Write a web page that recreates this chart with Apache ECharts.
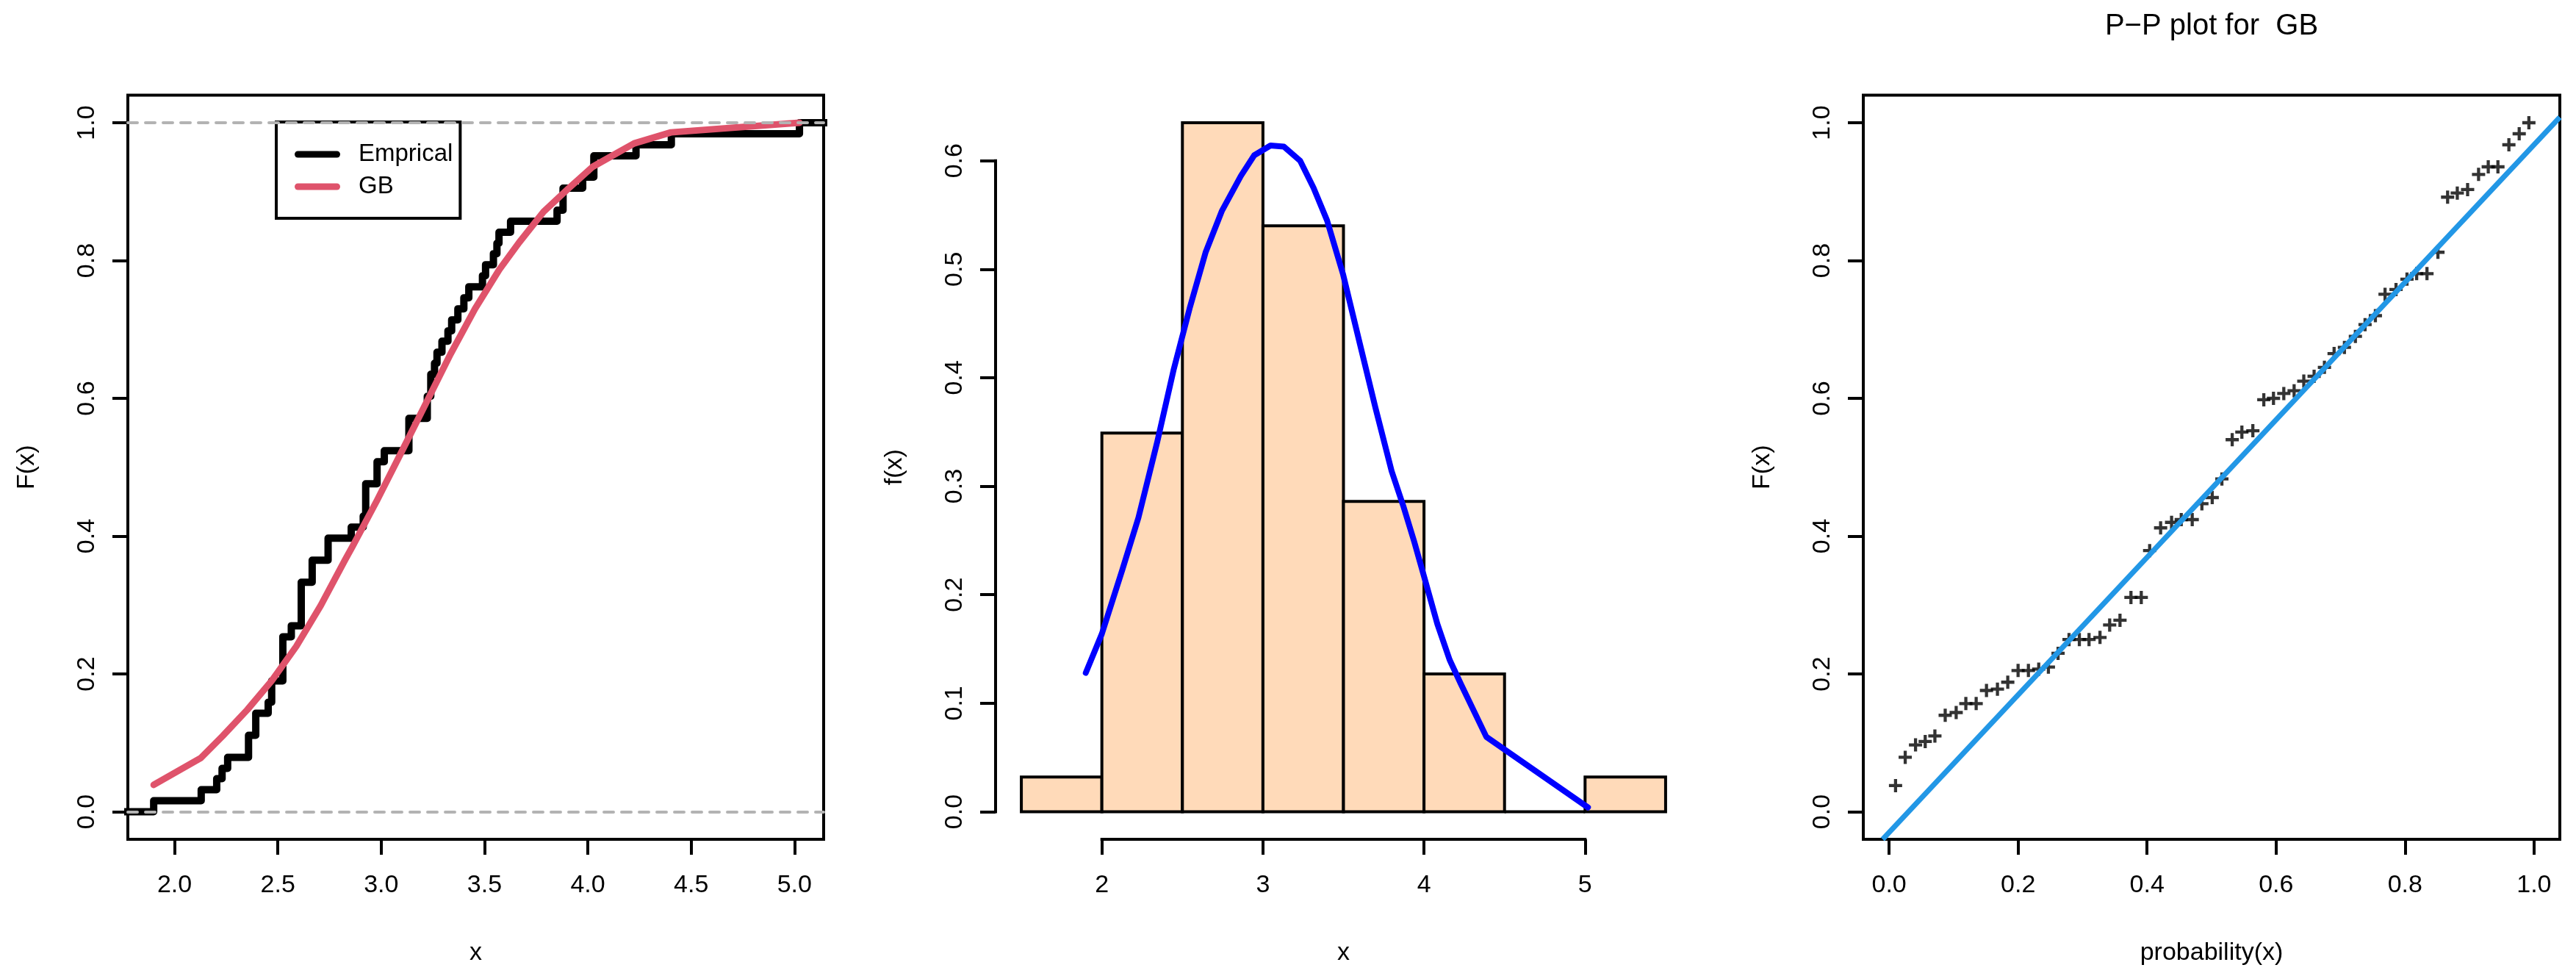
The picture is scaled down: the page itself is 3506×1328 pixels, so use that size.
<!DOCTYPE html>
<html><head><meta charset="utf-8">
<script src="https://cdn.jsdelivr.net/npm/echarts@6/dist/echarts.min.js"></script>
<style>html,body{margin:0;padding:0;background:#fff}#c{width:3506px;height:1328px}</style>
</head><body><div id="c"></div>
<script>
// ---------- Panel 1: empirical CDF vs fitted GB CDF ----------
const ecdfX = [1.60, 1.899, 2.129, 2.204, 2.230, 2.257, 2.358, 2.393, 2.453, 2.470, 2.524, 2.565, 2.613, 2.666, 2.743, 2.855, 2.913, 2.925, 2.980, 3.015, 3.134, 3.223, 3.240, 3.258, 3.270, 3.294, 3.323, 3.341, 3.371, 3.400, 3.424, 3.490, 3.505, 3.543, 3.560, 3.570, 3.626, 3.851, 3.880, 3.975, 4.029, 4.233, 4.404, 5.024, 5.30];
const ecdfY = [0.000, 0.016, 0.032, 0.048, 0.063, 0.079, 0.111, 0.143, 0.159, 0.190, 0.254, 0.270, 0.333, 0.365, 0.397, 0.413, 0.429, 0.476, 0.508, 0.524, 0.571, 0.603, 0.635, 0.651, 0.667, 0.683, 0.698, 0.714, 0.730, 0.746, 0.762, 0.778, 0.794, 0.810, 0.825, 0.841, 0.857, 0.873, 0.905, 0.921, 0.952, 0.968, 0.984, 1.000, 1.000];
const cdfX = [1.899, 2.127, 2.233, 2.352, 2.470, 2.589, 2.707, 2.826, 2.861, 2.980, 3.098, 3.217, 3.335, 3.454, 3.572, 3.667, 3.786, 3.904, 4.023, 4.141, 4.224, 4.402, 5.024];
const cdfY = [0.039, 0.078, 0.110, 0.148, 0.190, 0.240, 0.299, 0.366, 0.385, 0.452, 0.522, 0.593, 0.664, 0.730, 0.787, 0.826, 0.871, 0.904, 0.936, 0.956, 0.970, 0.986, 1.000];
const refLevels = [0, 1];
const p1XTicks = [2.0, 2.5, 3.0, 3.5, 4.0, 4.5, 5.0];
const p1YTicks = [0, 0.2, 0.4, 0.6, 0.8, 1.0];

// ---------- Panel 2: histogram + fitted density ----------
const binStart = [1.5, 2.0, 2.5, 3.0, 3.5, 4.0, 4.5, 5.0];
const binEnd   = [2.0, 2.5, 3.0, 3.5, 4.0, 4.5, 5.0, 5.5];
const binDensity = [0.032, 0.349, 0.635, 0.540, 0.286, 0.127, 0.000, 0.032];
const densX = [1.900, 2.000, 2.127, 2.227, 2.344, 2.445, 2.545, 2.645, 2.746, 2.863, 2.946, 3.047, 3.130, 3.231, 3.314, 3.398, 3.498, 3.599, 3.699, 3.799, 3.871, 3.939, 4.000, 4.083, 4.159, 4.228, 4.387, 5.018];
const densY = [0.128, 0.164, 0.223, 0.271, 0.341, 0.407, 0.464, 0.516, 0.554, 0.586, 0.605, 0.614, 0.613, 0.600, 0.575, 0.545, 0.495, 0.433, 0.372, 0.314, 0.282, 0.249, 0.217, 0.173, 0.140, 0.118, 0.069, 0.004];
const p2XTicks = [2, 3, 4, 5];
const p2YTicks = [0, 0.1, 0.2, 0.3, 0.4, 0.5, 0.6];

// ---------- Panel 3: P-P plot ----------
const ppX = [0.010,0.025,0.041,0.056,0.071,0.087,0.104,0.119,0.135,0.151,0.168,0.184,0.200,0.216,0.232,0.247,0.262,0.279,0.295,0.310,0.327,0.342,0.358,0.375,0.391,0.404,0.421,0.438,0.453,0.470,0.485,0.501,0.516,0.532,0.547,0.564,0.581,0.596,0.612,0.628,0.643,0.659,0.675,0.690,0.706,0.723,0.738,0.754,0.769,0.786,0.803,0.818,0.834,0.851,0.866,0.881,0.897,0.914,0.929,0.944,0.961,0.977,0.992];
const ppY = [0.038,0.079,0.097,0.102,0.110,0.140,0.144,0.157,0.157,0.176,0.178,0.188,0.205,0.205,0.207,0.210,0.230,0.250,0.250,0.250,0.253,0.271,0.278,0.311,0.311,0.379,0.412,0.420,0.424,0.424,0.447,0.456,0.483,0.540,0.551,0.553,0.598,0.600,0.607,0.611,0.625,0.632,0.645,0.665,0.674,0.690,0.707,0.720,0.751,0.758,0.773,0.781,0.781,0.812,0.892,0.898,0.903,0.925,0.936,0.936,0.968,0.984,1.000];
const ppLineX = [-0.010, 1.040];
const ppLineY = [-0.040, 1.008];
const p3Ticks = [0, 0.2, 0.4, 0.6, 0.8, 1.0];

// ---------- axis ranges ----------
const p1XRange = [1.774, 5.141], p1YRange = [-0.04, 1.04];
const p2XRange = [1.34, 5.66],   p2YRange = [-0.0254, 0.6604];
const p3XRange = [-0.04, 1.04],  p3YRange = [-0.04, 1.04];

const FONT = 'Liberation Sans, Arial, Helvetica, sans-serif';
const FS = 34;
const fmt1 = v => (Math.round(v * 10) / 10).toFixed(1);
const fmt0 = v => String(Math.round(v));

function xAx(gi, range, ticks, fmt, name) {
  return {
    type: 'value', gridIndex: gi, min: range[0], max: range[1], position: 'bottom',
    axisLine: { show: false, onZero: false }, splitLine: { show: false },
    axisTick: { show: true, inside: false, length: 21, customValues: ticks, lineStyle: { color: '#000', width: 4 } },
    axisLabel: { show: true, customValues: ticks, formatter: fmt, fontSize: FS, color: '#000', margin: 46, fontFamily: FONT },
    name: name, nameLocation: 'middle', nameGap: 138,
    nameTextStyle: { fontSize: FS, color: '#000', fontFamily: FONT }
  };
}
function yAx(gi, range, ticks, fmt, name) {
  return {
    type: 'value', gridIndex: gi, min: range[0], max: range[1], position: 'left',
    axisLine: { show: false, onZero: false }, splitLine: { show: false },
    axisTick: { show: true, inside: false, length: 21, customValues: ticks, lineStyle: { color: '#000', width: 4 } },
    axisLabel: { show: true, customValues: ticks, formatter: fmt, fontSize: FS, color: '#000', margin: 38, rotate: 90, fontFamily: FONT },
    name: name, nameLocation: 'middle', nameGap: 120, nameRotate: 90,
    nameTextStyle: { fontSize: FS, color: '#000', fontFamily: FONT }
  };
}
// bare axis that only shows its line (used for R-style partial axis lines of the histogram panel)
function lineOnlyAxis(kind, gi, pos) {
  return {
    type: 'value', gridIndex: gi, position: pos, min: 0, max: 1,
    axisLine: { show: true, onZero: false, lineStyle: { color: '#000', width: 4, cap: 'square' } },
    axisTick: { show: false }, axisLabel: { show: false }, splitLine: { show: false }
  };
}
function hiddenAxis(gi) {
  return { type: 'value', gridIndex: gi, show: false, min: 0, max: 1, splitLine: { show: false } };
}

// histogram panel geometry; the partial axis lines span from first to last tick
const G2 = { left: 1355, top: 129.5, width: 947, height: 1012.5 };
const px2 = v => G2.left + (v - p2XRange[0]) / (p2XRange[1] - p2XRange[0]) * G2.width;
const py2 = v => G2.top + (p2YRange[1] - v) / (p2YRange[1] - p2YRange[0]) * G2.height;
const nx = p2XTicks.length - 1, ny = p2YTicks.length - 1;

const chart = echarts.init(document.getElementById('c'), null, { renderer: 'canvas', width: 3506, height: 1328 });

const option = {
  animation: false,
  backgroundColor: '#fff',
  textStyle: { fontFamily: FONT },
  grid: [
    { left: 174, top: 129.5, width: 947, height: 1012.5, show: true, borderColor: '#000', borderWidth: 4, backgroundColor: 'transparent' },
    { left: G2.left, top: G2.top, width: G2.width, height: G2.height, show: false },
    { left: 2536, top: 129.5, width: 948, height: 1012.5, show: true, borderColor: '#000', borderWidth: 4, backgroundColor: 'transparent' },
    { left: px2(p2XTicks[0]), width: px2(p2XTicks[nx]) - px2(p2XTicks[0]), top: G2.top, height: G2.height, show: false },
    { left: G2.left, width: G2.width, top: py2(p2YTicks[ny]), height: py2(p2YTicks[0]) - py2(p2YTicks[ny]), show: false }
  ],
  xAxis: [
    xAx(0, p1XRange, p1XTicks, fmt1, 'x'),
    xAx(1, p2XRange, p2XTicks, fmt0, 'x'),
    xAx(2, p3XRange, p3Ticks, fmt1, 'probability(x)'),
    lineOnlyAxis('x', 3, 'bottom'),
    hiddenAxis(4)
  ],
  yAxis: [
    yAx(0, p1YRange, p1YTicks, fmt1, 'F(x)'),
    yAx(1, p2YRange, p2YTicks, fmt1, 'f(x)'),
    yAx(2, p3YRange, p3Ticks, fmt1, 'F(x)'),
    hiddenAxis(3),
    lineOnlyAxis('y', 4, 'left')
  ],
  legend: {
    data: ['Emprical', 'GB'],
    orient: 'vertical', left: 376, top: 166,
    padding: [26, 10, 25, 25],
    itemGap: 8, itemWidth: 62, itemHeight: 9,
    icon: 'path://M4.5,0H57.5A4.5,4.5,0,0,1,57.5,9H4.5A4.5,4.5,0,0,1,4.5,0Z',
    borderColor: '#000', borderWidth: 4, borderRadius: 0,
    selectedMode: false,
    textStyle: { fontSize: 33, lineHeight: 36, color: '#000', fontFamily: FONT, padding: [0, 0, 0, 20] }
  },
  graphic: [
    { type: 'text', z: 10, style: { text: 'P\u2212P plot for  GB', x: 3010, y: 36, align: 'center', verticalAlign: 'middle', font: '40px ' + FONT, fill: '#000' } }
  ],
  series: [
    {
      name: 'Emprical', type: 'line', xAxisIndex: 0, yAxisIndex: 0, z: 2,
      data: ecdfX.map((x, i) => [x, ecdfY[i]]), step: 'end', showSymbol: false, symbol: 'none',
      lineStyle: { color: '#000', width: 10, join: 'round', cap: 'round' }, itemStyle: { color: '#000' }
    },
    {
      type: 'line', xAxisIndex: 0, yAxisIndex: 0, z: 3, data: [], showSymbol: false,
      markLine: {
        silent: true, symbol: 'none', animation: false, label: { show: false },
        lineStyle: { color: '#B3B3B3', width: 4, type: [13, 11], cap: 'round' },
        data: refLevels.map(v => ({ yAxis: v }))
      }
    },
    {
      name: 'GB', type: 'line', xAxisIndex: 0, yAxisIndex: 0, z: 4,
      data: cdfX.map((x, i) => [x, cdfY[i]]), showSymbol: false, symbol: 'none',
      lineStyle: { color: '#DF536B', width: 9, cap: 'round', join: 'round' }, itemStyle: { color: '#DF536B' }
    },
    {
      type: 'custom', xAxisIndex: 1, yAxisIndex: 1, z: 2,
      data: binStart.map((s, i) => [s, binEnd[i], binDensity[i]]),
      encode: { x: [0, 1], y: 2 },
      renderItem: function (params, api) {
        const a = api.coord([api.value(0), api.value(2)]);
        const b = api.coord([api.value(1), 0]);
        return { type: 'rect', shape: { x: a[0], y: a[1], width: b[0] - a[0], height: b[1] - a[1] },
                 style: { fill: '#FFDAB9', stroke: '#000', lineWidth: 4 } };
      }
    },
    {
      type: 'line', xAxisIndex: 1, yAxisIndex: 1, z: 4,
      data: densX.map((x, i) => [x, densY[i]]), showSymbol: false, symbol: 'none',
      lineStyle: { color: '#0000FF', width: 8, cap: 'round', join: 'round' }
    },
    {
      type: 'scatter', xAxisIndex: 2, yAxisIndex: 2, z: 3,
      data: ppX.map((x, i) => [x, ppY[i]]),
      symbol: 'path://M-1.9,-8H1.9V-1.9H8V1.9H1.9V8H-1.9V1.9H-8V-1.9H-1.9Z', symbolSize: 18,
      itemStyle: { color: '#000' }
    },
    {
      type: 'line', xAxisIndex: 2, yAxisIndex: 2, z: 4,
      data: ppLineX.map((x, i) => [x, ppLineY[i]]), showSymbol: false, symbol: 'none',
      lineStyle: { color: '#2297E6', width: 7 }
    }
  ]
};
chart.setOption(option);
</script></body></html>
